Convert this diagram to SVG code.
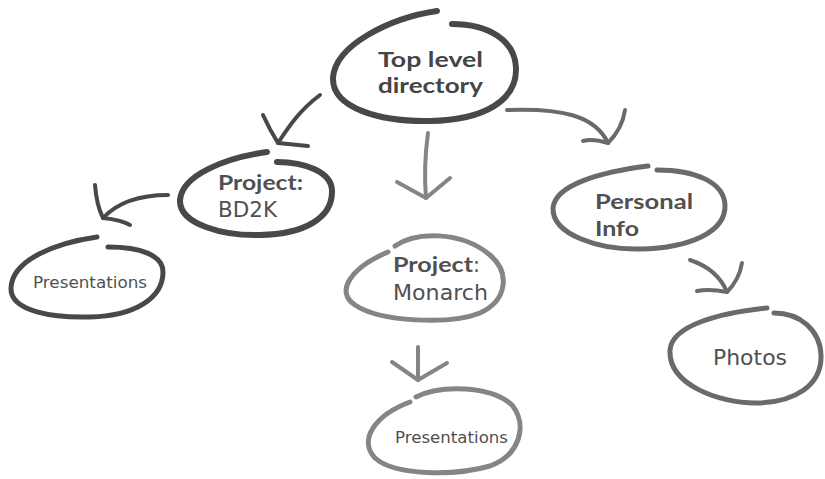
<svg xmlns="http://www.w3.org/2000/svg" width="825" height="479" viewBox="0 0 825 479">
<style>
.n{fill:none;stroke-linecap:round;stroke-linejoin:round}
.dark{stroke:#484848}
.mid{stroke:#6a6a6a}
.light{stroke:#858585}
.t{font-family:"DejaVu Sans","Open Sans",sans-serif;fill:#505050}
.b{font-family:Lato,"DejaVu Sans",sans-serif;font-weight:bold}
.c{fill:none;stroke-width:4;stroke-linecap:round;stroke-linejoin:round}
</style>
<rect width="825" height="479" fill="#fff"/>
<g id="connectors">
<g class="c dark">
<path d="M320,95 C300,110 289,126 278,143"/>
<path d="M263,115 C268,126 273,135 278,143 C288,144 298,145 308,146"/>
<path d="M168,195 C140,195 118,202 103,218"/>
<path d="M95,185 C96,198 99,210 103,218 C113,219 123,221 130,225"/>
</g>
<g class="c light">
<path d="M428,133 C425,155 424,175 426,198"/>
<path d="M397,182 L426,198 L450,178"/>
<path d="M418,347 L418,380"/>
<path d="M392,362 L418,380 L447,363"/>
</g>
<g class="c mid">
<path d="M507,110 C560,108 595,115 608,143"/>
<path d="M625,110 C623,124 616,135 608,143 C598,140 590,139 583,141"/>
<path d="M690,260 C705,265 720,275 727,292"/>
<path d="M742,263 C740,275 734,285 727,292 C717,290 707,289 697,291"/>
</g>
</g>
<g id="top">
<path class="n dark" stroke-width="6" d="M437,11 C390,18 335,45 333,78 C332,108 380,122 430,121 C485,120 517,100 516,68 C515,40 488,24 452,24"/>
<text class="t b" x="378" y="67" font-size="21.5" textLength="105" lengthAdjust="spacingAndGlyphs" style="fill:#454545">Top level</text>
<text class="t b" x="378" y="93" font-size="21.5" textLength="105" lengthAdjust="spacingAndGlyphs" style="fill:#454545">directory</text>
</g>
<g id="bd2k">
<path class="n dark" stroke-width="6" d="M267,152 C225,158 182,175 180,200 C179,225 225,236 260,235 C305,234 333,218 332,190 C331,172 305,162 277,162"/>
<text class="t b" x="218" y="190" font-size="21.5" textLength="85" lengthAdjust="spacingAndGlyphs">Project:</text>
<text class="t" x="218" y="217" font-size="20.5" textLength="59" lengthAdjust="spacingAndGlyphs">BD2K</text>
</g>
<g id="pres1">
<path class="n dark" stroke-width="5" d="M97,237 C55,243 12,260 11,288 C10,312 55,318 90,317 C135,316 163,298 163,272 C163,255 140,247 108,247"/>
<text class="t" x="33" y="288" font-size="16.5" textLength="114" lengthAdjust="spacingAndGlyphs">Presentations</text>
</g>
<g id="monarch">
<path class="n light" stroke-width="5" d="M395,246 C415,232 460,230 490,255 C510,272 508,300 480,313 C450,325 380,322 355,305 C335,292 350,268 388,252"/>
<text class="t" x="393" y="272" font-size="21.5"><tspan class="b" textLength="80" lengthAdjust="spacingAndGlyphs">Project</tspan><tspan font-size="20.5">:</tspan></text>
<text class="t" x="393" y="300" font-size="20.5" textLength="95" lengthAdjust="spacingAndGlyphs">Monarch</text>
</g>
<g id="pres2">
<path class="n light" stroke-width="5" d="M416,397 C440,385 490,385 512,405 C528,425 520,455 490,466 C455,476 395,476 375,458 C358,440 375,415 410,402"/>
<text class="t" x="395" y="443" font-size="16.5" textLength="113" lengthAdjust="spacingAndGlyphs">Presentations</text>
</g>
<g id="personal">
<path class="n mid" stroke-width="5" d="M648,166 C600,172 555,185 553,208 C552,235 600,250 640,249 C690,248 726,232 725,205 C724,182 695,170 657,170"/>
<text class="t b" x="595" y="209" font-size="21.5" textLength="98" lengthAdjust="spacingAndGlyphs">Personal</text>
<text class="t b" x="595" y="236" font-size="21.5" textLength="44" lengthAdjust="spacingAndGlyphs">Info</text>
</g>
<g id="photos">
<path class="n mid" stroke-width="5" d="M767,308 C720,313 672,325 670,350 C668,385 720,403 755,403 C795,403 822,385 821,355 C820,330 800,313 774,313"/>
<text class="t" x="713" y="365" font-size="20.5" textLength="74" lengthAdjust="spacingAndGlyphs">Photos</text>
</g>
</svg>
